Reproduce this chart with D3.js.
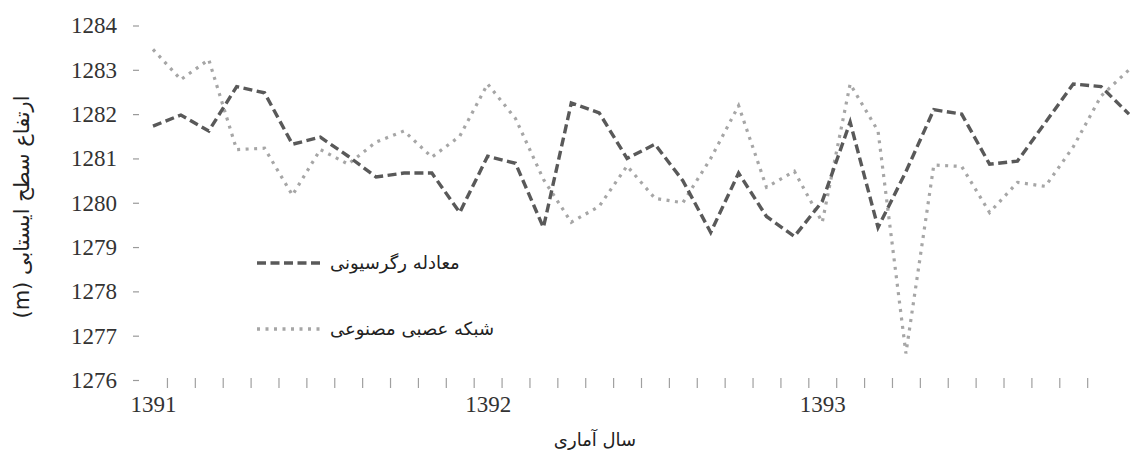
<!DOCTYPE html>
<html>
<head>
<meta charset="utf-8">
<script src="https://cdn.jsdelivr.net/npm/d3@7/dist/d3.min.js"></script>
<style>
  html, body { margin: 0; padding: 0; background: #fff; }
  svg { display: block; }
</style>
</head>
<body>
<svg id="chart" width="1139" height="456"></svg>
<script>
// Monthly observations, 1391-1393 (36 months)
const months = d3.range(36);
const regression = [1281.73, 1281.98, 1281.62, 1282.62, 1282.48, 1281.32, 1281.48, 1281.05, 1280.58, 1280.67,
  1280.67, 1279.78, 1281.05, 1280.89, 1279.44, 1282.25, 1282.03, 1281.0, 1281.32, 1280.5,
  1279.33, 1280.67, 1279.69, 1279.24, 1280.03, 1281.82, 1279.44, 1280.7, 1282.1, 1282.0,
  1280.87, 1280.94, 1281.81, 1282.68, 1282.62, 1282.0];
const ann = [1283.46, 1282.78, 1283.23, 1281.2, 1281.23, 1280.17, 1281.2, 1280.87, 1281.37, 1281.62,
  1281.03, 1281.5, 1282.68, 1281.9, 1280.53, 1279.56, 1279.92, 1280.83, 1280.1, 1280.0,
  1281.0, 1282.19, 1280.35, 1280.71, 1279.56, 1282.68, 1281.62, 1276.6, 1280.85, 1280.82,
  1279.78, 1280.46, 1280.37, 1281.26, 1282.41, 1283.0];
const yearLabels = ["1391", "1392", "1393"];
const yearIndex = [0, 12, 24];
const yTicks = [1276, 1277, 1278, 1279, 1280, 1281, 1282, 1283, 1284];
const seriesNames = ["معادله رگرسیونی", "شبکه عصبی مصنوعی"];
const xTitle = "سال آماری";
const yTitle = "ارتفاع سطح ایستابی (m)";

const svg = d3.select("#chart");
const x = d3.scaleLinear().domain([0, 35]).range([153, 1129]);
const y = d3.scaleLinear().domain([1276, 1284]).range([380, 25.5]);

const serif = "'Liberation Serif', 'Times New Roman', serif";
const arabic = "'DejaVu Sans', sans-serif";

// Y axis
const yAxis = svg.append("g").attr("transform", "translate(139,0)")
  .call(d3.axisLeft(y).tickValues(yTicks).tickSize(6).tickPadding(16).tickFormat(d3.format("d")));
yAxis.select(".domain").remove();
yAxis.selectAll(".tick line").attr("stroke", "#9a9a9a").attr("stroke-width", 1.2);
yAxis.selectAll(".tick text").attr("fill", "#333").style("font-family", serif).style("font-size", "23px");

// X tick marks (between months)
const xTickAxis = svg.append("g").attr("transform", "translate(0,378)")
  .call(d3.axisBottom(x).tickValues(d3.range(0.5, 34, 1)).tickSize(10).tickFormat(""));
xTickAxis.select(".domain").remove();
xTickAxis.selectAll(".tick line").attr("stroke", "#a0a0a0").attr("stroke-width", 1.2);

// Year labels
const xLabelAxis = svg.append("g").attr("transform", "translate(0,396)")
  .call(d3.axisBottom(x).tickValues(yearIndex).tickSize(0).tickPadding(0)
    .tickFormat((d, i) => yearLabels[i]));
xLabelAxis.select(".domain").remove();
xLabelAxis.selectAll(".tick text").attr("fill", "#333").style("font-family", serif).style("font-size", "23px");

// Lines
const line = d3.line().x((d, i) => x(months[i])).y(d => y(d));
svg.append("path").datum(ann)
  .attr("fill", "none").attr("stroke", "#a6a6a6").attr("stroke-width", 3.2)
  .attr("stroke-dasharray", "3,5.5").attr("d", line);
svg.append("path").datum(regression)
  .attr("fill", "none").attr("stroke", "#595959").attr("stroke-width", 3.4)
  .attr("stroke-dasharray", "9,4.5").attr("d", line);

// Legend
const legend = [
  { name: seriesNames[0], color: "#595959", dash: "9,4.5", y: 263 },
  { name: seriesNames[1], color: "#a6a6a6", dash: "3,5.5", y: 329 }
];
const lg = svg.append("g");
lg.selectAll("line").data(legend).join("line")
  .attr("x1", 257).attr("x2", 322).attr("y1", d => d.y).attr("y2", d => d.y)
  .attr("stroke", d => d.color).attr("stroke-width", 3.4).attr("stroke-dasharray", d => d.dash);
lg.selectAll("text").data(legend).join("text")
  .attr("x", 330).attr("y", d => d.y).attr("dy", "0.35em")
  .attr("fill", "#222").style("font-family", arabic).style("font-size", "18px")
  .text(d => d.name);

// Axis titles
svg.append("text").attr("x", 595).attr("y", 440).attr("text-anchor", "middle")
  .attr("dy", "0.35em").attr("fill", "#222")
  .style("font-family", arabic).style("font-size", "18px").text(xTitle);
svg.append("text").attr("transform", "translate(22,207) rotate(-90)")
  .attr("direction", "rtl").attr("unicode-bidi", "embed")
  .attr("text-anchor", "middle").attr("dy", "0.35em").attr("fill", "#222")
  .style("font-family", arabic).style("font-size", "21px").text(yTitle);
</script>
</body>
</html>
